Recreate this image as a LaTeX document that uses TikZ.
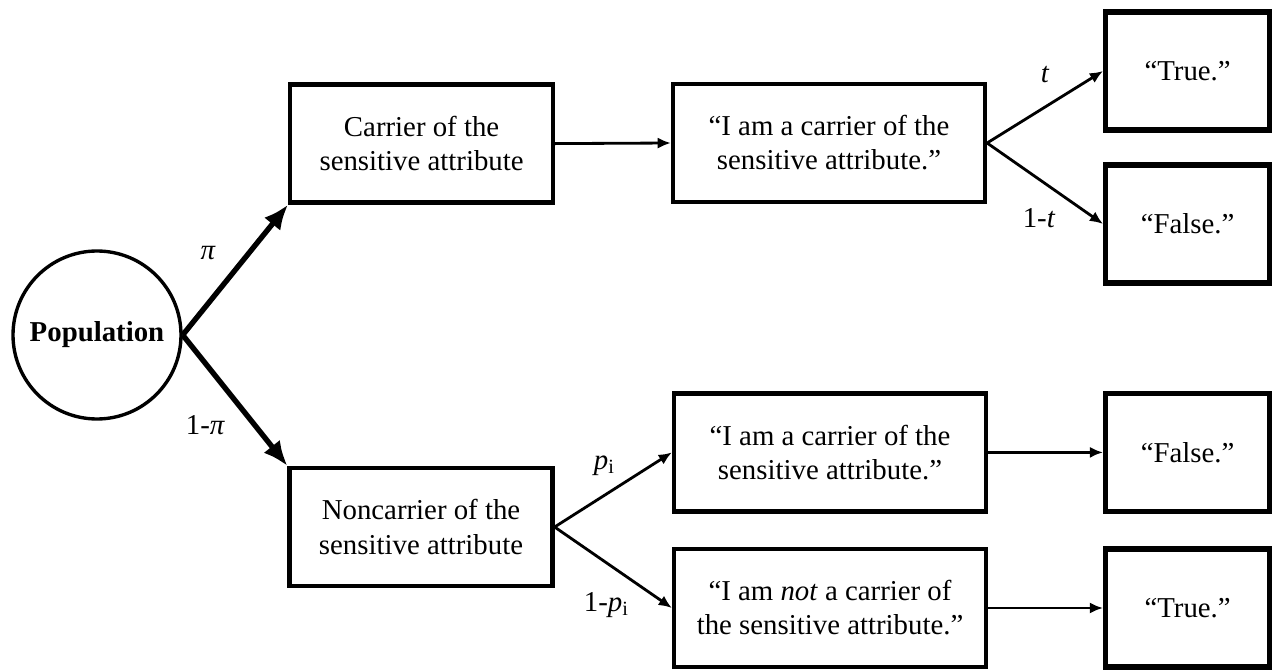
\documentclass[tikz,border=0pt]{standalone}
\usepackage{fontspec}
\setmainfont{Liberation Serif}
\usetikzlibrary{arrows.meta}

\begin{document}
\begin{tikzpicture}[every node/.style={font=\fontsize{20.5}{24.2}\selectfont},
	box/.style={draw, line width=3pt, align=center, inner sep=0pt, minimum height=2.95cm},
	ansbox/.style={box, line width=3.6pt, minimum width=4.1cm},
	popcircle/.style={draw, circle, line width=2.4pt, inner sep=0pt, minimum size=4.2cm},
	arr/.style={line width=2pt, -{Latex[length=0.33cm, width=0.28cm]}},
	bigarr/.style={line width=3.8pt, -{Latex[length=0.62cm, width=0.52cm]}}]
		\useasboundingbox (0,0) rectangle (31.925,-16.75);
		% root and first split
		\node[popcircle] (pop) at (2.425,-8.375) {\textbf{Population}};
		\node[box, minimum width=6.575cm] (car) at (10.54,-3.59) {Carrier of the\\sensitive attribute};
		\node[box, minimum width=6.575cm] (noncar) at (10.525,-13.175) {Noncarrier of the\\sensitive attribute};
		% what is said
		\node[box, minimum width=7.8cm] (saycar) at (20.725,-3.575) {“I am a carrier of the\\sensitive attribute.”};
		\node[box, minimum width=7.8cm] (saycarb) at (20.75,-11.31) {“I am a carrier of the\\sensitive attribute.”};
		\node[box, minimum width=7.8cm] (saynot) at (20.75,-15.2) {“I am \textit{not} a carrier of\\the sensitive attribute.”};
		% answers
		\node[ansbox] (truea) at (29.69,-1.775) {“True.”};
		\node[ansbox] (falsea) at (29.69,-5.6) {“False.”};
		\node[ansbox] (falseb) at (29.69,-11.31) {“False.”};
		\node[ansbox] (trueb) at (29.69,-15.2) {“True.”};

		\draw[bigarr] (pop.east) -- node[xshift=-0.68cm, yshift=0.43cm] {\textit{π}} (car.south west);
		\draw[bigarr] (pop.east) -- node[xshift=-0.74cm, yshift=-0.61cm] {1-\textit{π}} (noncar.north west);
		\draw[arr] (car.east) -- (saycar.west);
		\draw[arr] (saycar.east) -- node[yshift=0.81cm] {\textit{t}} (truea.west);
		\draw[arr] (saycar.east) -- node[xshift=-0.15cm, yshift=-0.875cm] {1-\textit{t}} (falsea.west);
		\draw[arr] (noncar.east) -- node[xshift=-0.225cm, yshift=0.61cm] {\textit{p}\textsubscript{i}} (saycarb.west);
		\draw[arr] (noncar.east) -- node[xshift=-0.175cm, yshift=-0.94cm] {1-\textit{p}\textsubscript{i}} (saynot.west);
		\draw[arr] (saycarb.east) -- (falseb.west);
		\draw[arr] (saynot.east) -- (trueb.west);
	\end{tikzpicture}
\end{document}
